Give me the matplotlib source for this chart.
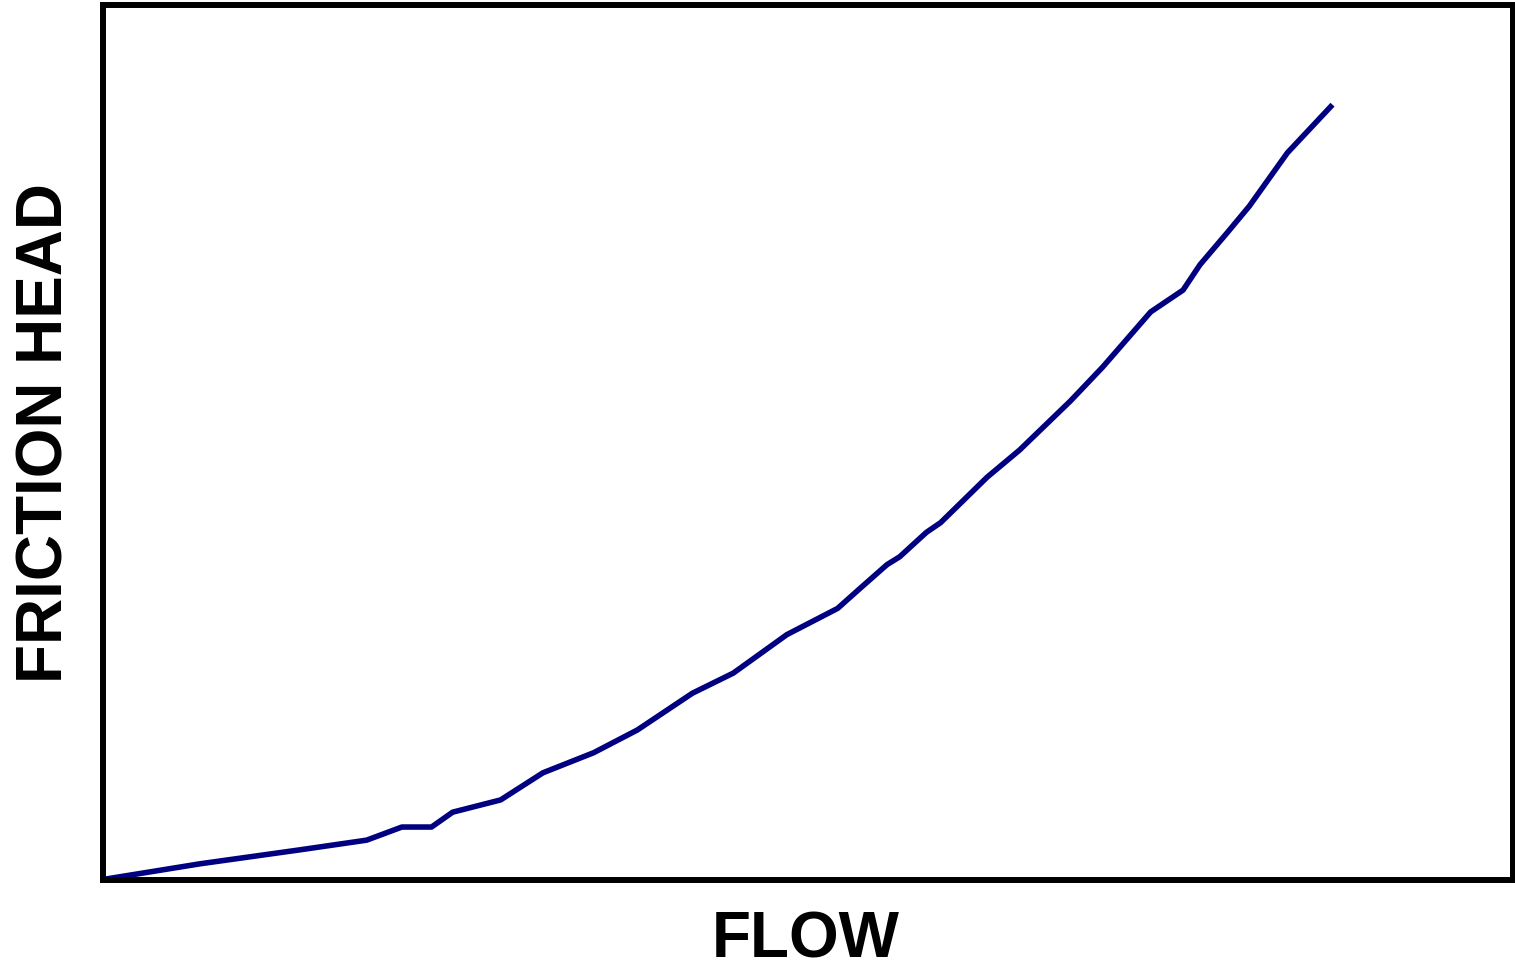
import matplotlib.pyplot as plt

# Flow vs friction head (relative units, 0-100)
flow = [0, 6.9, 14.0, 18.7, 21.2, 23.3, 24.8, 28.2, 31.2, 34.8, 37.9, 41.8,
        44.7, 48.5, 52.1, 53.7, 55.6, 56.5, 58.4, 59.4, 62.7, 65.0, 68.6,
        70.9, 74.3, 76.6, 77.8, 79.7, 81.3, 84.0, 87.2]
head = [0, 1.8, 3.4, 4.5, 6.0, 6.0, 7.7, 9.1, 12.2, 14.5, 17.1, 21.3,
        23.6, 28.0, 31.0, 33.3, 36.0, 36.9, 39.7, 40.8, 46.0, 49.1, 54.7,
        58.6, 64.9, 67.4, 70.3, 73.9, 77.0, 83.1, 88.6]


def main():
    plt.rcParams['font.family'] = ['Liberation Sans', 'DejaVu Sans']
    fig = plt.figure(figsize=(15.15, 9.69), dpi=100)
    ax = fig.add_axes([103 / 1515, 1 - 879.5 / 969, 1410 / 1515, 874.5 / 969])

    ax.plot(flow, head, color='#000080', linewidth=4.0, solid_capstyle='butt')
    ax.set_xlim(0, 100)
    ax.set_ylim(0, 100)
    ax.set_xticks([])
    ax.set_yticks([])
    for s in ax.spines.values():
        s.set_linewidth(4.3)
        s.set_color('black')

    # axis titles; the reference has no tick marks or numbers
    fig.text(806 / 1515, 1 - 957 / 969, 'FLOW', fontsize=46, fontweight='bold',
             ha='center', va='baseline')
    fig.text(46 / 1515, 1 - 433 / 969, 'FRICTION HEAD', fontsize=46,
             fontweight='bold', rotation=90, ha='center', va='center')

    fig.savefig('out.png', dpi=100)


if __name__ == "__main__":
    main()
